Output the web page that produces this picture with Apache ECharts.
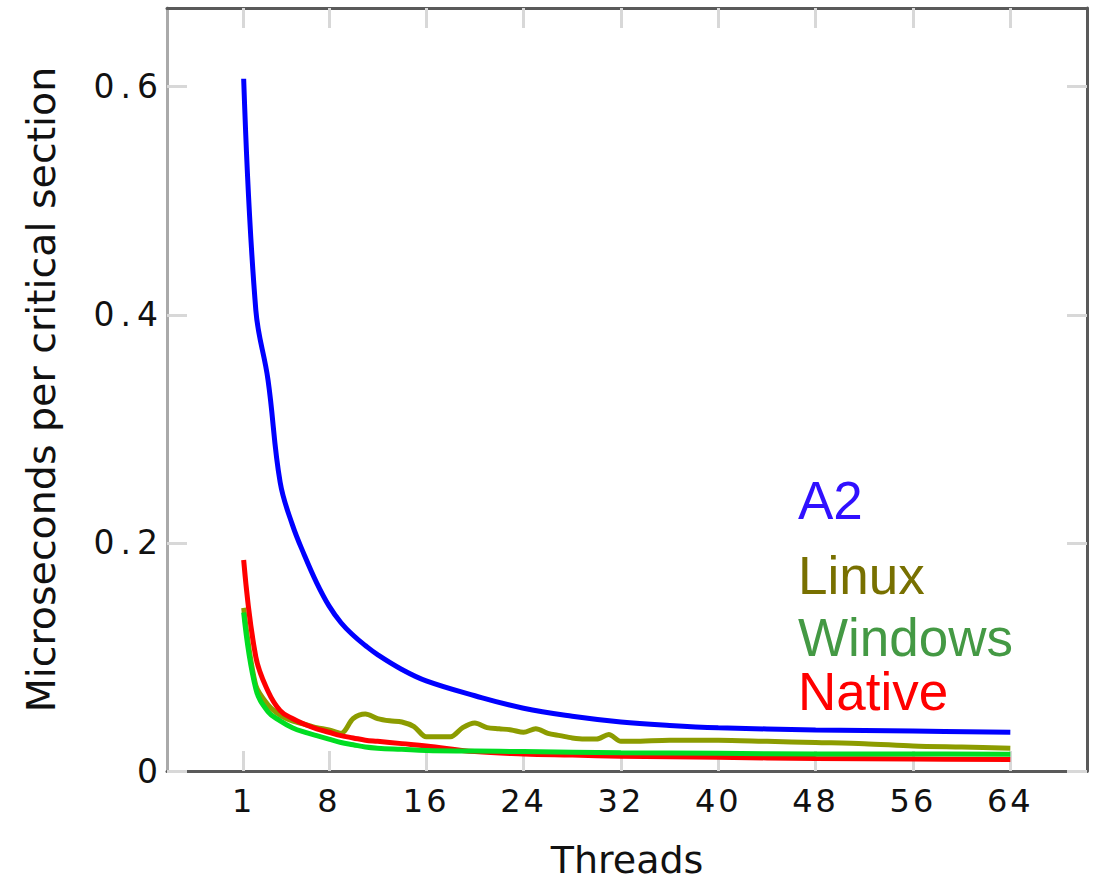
<!DOCTYPE html>
<html>
<head>
<meta charset="utf-8">
<script src="https://cdn.jsdelivr.net/npm/echarts@6/dist/echarts.min.js"></script>
<style>
html,body{margin:0;padding:0;background:#fff;}
#c{width:1097px;height:881px;}
#c text[style*="33px"]{letter-spacing:6px;}
#c text[style*="32px"]{letter-spacing:3px;}
</style>
</head>
<body>
<div id="c"></div>
<script>
// ---- data ----
const xTickValues = [1, 8, 16, 24, 32, 40, 48, 56, 64];
const yTickValues = [0, 0.2, 0.4, 0.6];

const seriesNames = ['A2', 'Linux', 'Windows', 'Native'];

const threadsA2 = [1,2,3,4,5,6,7,8,9,10,11,12,14,16,20,24,28,32,36,40,48,56,64];
const valuesA2 = [0.607,0.404,0.343,0.253,0.216,0.189,0.165,0.145,0.130,0.119,0.110,0.102,0.089,0.079,0.066,0.055,0.048,0.043,0.040,0.038,0.036,0.035,0.034];

const threadsLinux = [1,2,3,4,5,6,7,8,9,10,11,12,13,14,15,16,17,18,19,20,21,22,23,24,25,26,27,28,29,30,31,32,33,36,40,44,48,52,56,60,64];
const valuesLinux = [0.143,0.075,0.058,0.049,0.044,0.041,0.038,0.036,0.033,0.046,0.050,0.046,0.044,0.043,0.039,0.030,0.030,0.030,0.038,0.042,0.038,0.037,0.036,0.034,0.037,0.033,0.031,0.029,0.028,0.028,0.032,0.026,0.026,0.027,0.027,0.026,0.025,0.024,0.022,0.021,0.020];

const threadsWindows = [1,2,3,4,5,6,7,8,9,10,11,12,14,16,20,24,32,40,48,56,64];
const valuesWindows = [0.139,0.072,0.052,0.044,0.038,0.034,0.031,0.028,0.025,0.023,0.021,0.020,0.019,0.018,0.0175,0.017,0.016,0.0155,0.015,0.015,0.0146];

const threadsNative = [1,2,3,4,5,6,7,8,9,10,11,12,14,16,20,24,28,32,40,48,56,64];
const valuesNative = [0.185,0.100,0.070,0.053,0.046,0.041,0.037,0.034,0.031,0.029,0.027,0.026,0.024,0.022,0.017,0.015,0.014,0.013,0.012,0.011,0.0105,0.010];

const lineColors = ['#0000ff', '#8c9c00', '#00dd22', '#ff0000'];
const labelColors = ['#3010ff', '#787000', '#449944', '#ff0000'];

function pairs(xs, ys) { return xs.map((x, i) => [x, ys[i]]); }

const chart = echarts.init(document.getElementById('c'), null, {renderer: 'svg'});

const tickStyle = {show: true, inside: true, length: 20, lineStyle: {color: '#d8d8d8', width: 3}};
const xLabelFont = {fontFamily: 'DejaVu Sans', fontSize: 32, color: '#111'};
const yLabelFont = {fontFamily: 'DejaVu Sans', fontSize: 33, color: '#111'};

function lineSeries(name, xs, ys, color, z, smooth) {
  return {
    name: name, type: 'line', data: pairs(xs, ys), showSymbol: false, smooth: smooth,
    lineStyle: {color: color, width: 5}, itemStyle: {color: color}, z: z, silent: true, animation: false
  };
}

const legendY = [501, 576, 638, 692];

chart.setOption({
  animation: false,
  backgroundColor: '#fff',
  grid: {left: 167, right: 10, top: 8, bottom: 110, containLabel: false, outerBoundsMode: 'none'},
  xAxis: [{
    type: 'value', position: 'bottom', min: -5.3, max: 70.3,
    name: 'Threads', nameLocation: 'middle', nameGap: 70,
    nameTextStyle: {fontFamily: 'DejaVu Sans', fontSize: 38, lineHeight: 38, color: '#111'},
    axisLine: {show: true, onZero: false, lineStyle: {color: '#5a5a5a', width: 3}},
    axisTick: Object.assign({customValues: xTickValues}, tickStyle),
    axisLabel: Object.assign({customValues: xTickValues, margin: 14}, xLabelFont),
    splitLine: {show: false}
  }, {
    type: 'value', position: 'top', min: -5.3, max: 70.3,
    axisLine: {show: true, onZero: false, lineStyle: {color: '#5a5a5a', width: 3}},
    axisTick: Object.assign({customValues: xTickValues}, tickStyle),
    axisLabel: {show: false},
    splitLine: {show: false}
  }],
  yAxis: [{
    type: 'value', position: 'left', min: 0, max: 0.669,
    name: 'Microseconds per critical section', nameLocation: 'middle', nameGap: 106,
    nameTextStyle: {fontFamily: 'DejaVu Sans', fontSize: 39.5, color: '#111'},
    axisLine: {show: true, onZero: false, lineStyle: {color: '#aaaaaa', width: 3}},
    axisTick: Object.assign({customValues: yTickValues}, tickStyle),
    axisLabel: Object.assign({customValues: yTickValues, margin: 3,
      formatter: v => (v === 0 ? '0' : v.toFixed(1))}, yLabelFont),
    splitLine: {show: false}
  }, {
    type: 'value', position: 'right', min: 0, max: 0.669,
    axisLine: {show: true, onZero: false, lineStyle: {color: '#5a5a5a', width: 3}},
    axisTick: Object.assign({customValues: yTickValues}, tickStyle),
    axisLabel: {show: false},
    splitLine: {show: false}
  }],
  series: [
    lineSeries(seriesNames[0], threadsA2, valuesA2, lineColors[0], 2, 0.4),
    lineSeries(seriesNames[1], threadsLinux, valuesLinux, lineColors[1], 3, 0.3),
    lineSeries(seriesNames[3], threadsNative, valuesNative, lineColors[3], 4, 0.4),
    lineSeries(seriesNames[2], threadsWindows, valuesWindows, lineColors[2], 5, 0.4)
  ],
  graphic: seriesNames.map((n, i) => ({
    type: 'text', left: 798, top: legendY[i] - 27, silent: true,
    style: {text: n, fill: labelColors[i], font: '53px "Liberation Sans"'}
  }))
});
</script>
</body>
</html>
